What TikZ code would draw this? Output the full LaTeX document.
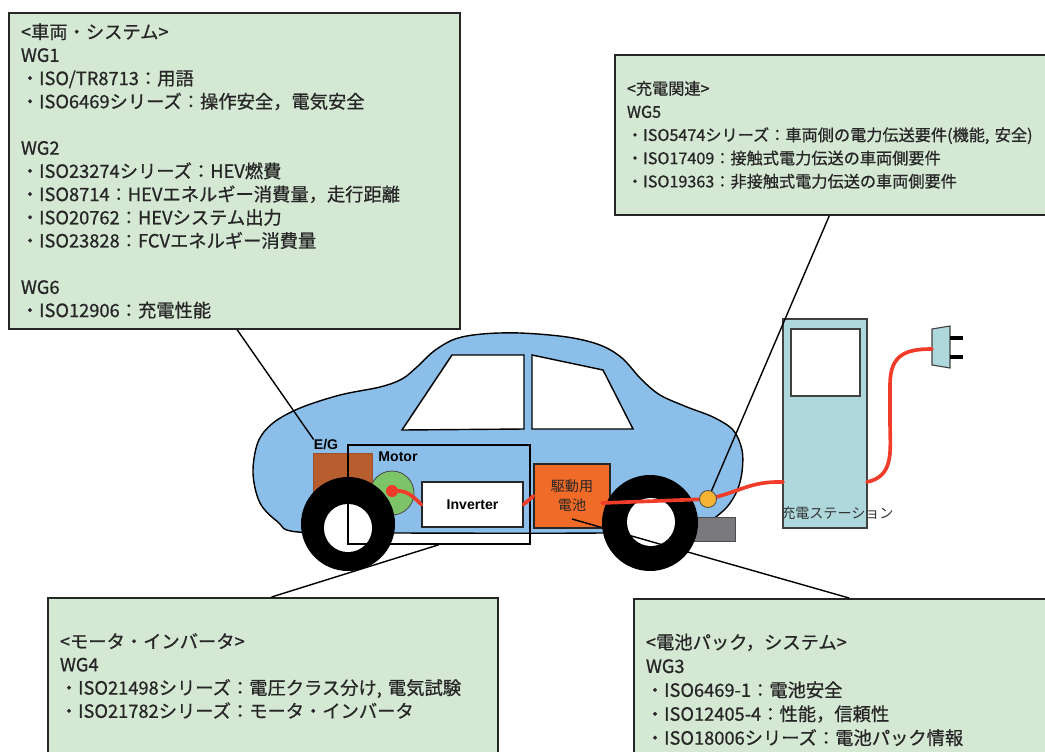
\documentclass[tikz,border=0pt]{standalone}
\usepackage{fontspec}
\setmainfont{Liberation Sans}
\newfontfamily\jp{Noto Sans CJK JP}
\newfontfamily\jpnote[FakeBold=0.7]{Noto Sans CJK JP}
\usetikzlibrary{calc}
\definecolor{notegreen}{RGB}{213,232,212}
\definecolor{carblue}{RGB}{139,190,232}
\definecolor{egbrown}{RGB}{184,94,46}
\definecolor{motorgreen}{RGB}{125,196,104}
\definecolor{cellorange}{RGB}{240,106,40}
\definecolor{cablered}{RGB}{240,60,40}
\definecolor{portgold}{RGB}{245,180,50}
\definecolor{stationteal}{RGB}{174,216,220}
\definecolor{bumpergray}{RGB}{122,122,126}
\newcommand{\unitpx}{0.025cm}
\tikzset{
  note/.style={draw=black!85,line width=1.3pt,fill=notegreen,anchor=north west,align=left,inner xsep=12*\unitpx,inner ysep=0pt,text=black!85,font=\jpnote\fontsize{13}{16.5}\selectfont},
  body/.style={draw=black,line width=1pt,fill=carblue},
  pane/.style={draw=black,line width=1pt,fill=white},
  part/.style={draw=black!85,line width=0.8pt,inner sep=0pt,align=center},
  tag/.style={inner sep=0pt,font=\bfseries\fontsize{10}{12}\selectfont},
  cable/.style={draw=cablered,line width=2.6pt,line cap=round},
  leader/.style={draw=black,line width=1pt}
}
\begin{document}
\begin{tikzpicture}[x=0.025cm,y=-0.025cm]
\path[use as bounding box,clip] (0,0) rectangle (1045,751);

% notes
\node[note,text width=427*\unitpx,minimum height=316*\unitpx] (vehicle) at (8,12) {%
<車両・システム>\\
WG1\\
・ISO/TR8713：用語\\
・ISO6469シリーズ：操作安全，電気安全\\[16.5pt]
WG2\\
・ISO23274シリーズ：HEV燃費\\
・ISO8714：HEVエネルギー消費量，走行距離\\
・ISO20762：HEVシステム出力\\
・ISO23828：FCVエネルギー消費量\\[16.5pt]
WG6\\
・ISO12906：充電性能};
\node[note,text width=416*\unitpx,minimum height=160*\unitpx,font=\jpnote\fontsize{11.5}{16.5}\selectfont] (charging) at (614,54) {%
<充電関連>\\
WG5\\
・ISO5474シリーズ：車両側の電力伝送要件(機能, 安全)\\
・ISO17409：接触式電力伝送の車両側要件\\
・ISO19363：非接触式電力伝送の車両側要件};
\node[note,text width=426*\unitpx,minimum height=156*\unitpx] (drivenote) at (47,597) {%
<モータ・インバータ>\\
WG4\\
・ISO21498シリーズ：電圧クラス分け, 電気試験\\
・ISO21782シリーズ：モータ・インバータ};
\node[note,text width=416*\unitpx,minimum height=182*\unitpx,font=\jpnote\fontsize{13}{17}\selectfont] (packnote) at (633,598) {%
<電池パック，システム>\\
WG3\\
・ISO6469-1：電池安全\\
・ISO12405-4：性能，信頼性\\
・ISO18006シリーズ：電池パック情報};

% car body and windows
\draw[body] plot[smooth cycle,tension=0.55] coordinates {
  (298,532) (278,522) (260,503) (253,473) (258,442) (273,423) (300,408)
  (340,395) (380,387) (402,379) (418,366) (434,351) (455,339) (482,334)
  (520,333) (567,337) (600,345) (622,358) (641,379) (660,395) (687,407)
  (713,417) (733,430) (742,450) (742,472) (737,491) (727,507) (712,520)
  (697,530) (600,533) (400,533)};
\draw[pane] (402,430) -- (452,355) -- (524,355) -- (524,429) -- cycle;
\draw[pane] (532,355) -- (603,370) -- (633,429) -- (532,429) -- cycle;

% drive train
\node[fill=egbrown,draw=egbrown!85!black,line width=0.5pt,minimum width=59*\unitpx,minimum height=52*\unitpx] (egblock) at (342.5,479) {};
\node[tag] (eg) at (326,445) {E/G};
\node[circle,fill=motorgreen,draw=black!70,line width=0.6pt,minimum size=44*\unitpx] (motor) at (392,493) {};
\node[tag] (motorname) at (398,457) {Motor};
\node[part,fill=white,minimum width=101*\unitpx,minimum height=45*\unitpx,font=\bfseries\fontsize{10}{12}\selectfont] (inverter) at (472.5,504.5) {Inverter};
\node[part,fill=cellorange,minimum width=76*\unitpx,minimum height=64*\unitpx,text=black!85,font=\jp\fontsize{10}{13.5}\selectfont] (battery) at (572,496) {駆動用\\電池};
\draw[draw=black!70,fill=bumpergray] (693,517) rectangle (735,541);

% wheels
\fill[black] (348,524) circle[radius=47];
\fill[white] (348,528) circle[radius=24];
\fill[black] (650,523) circle[radius=48];
\fill[white] (651,522) circle[radius=24];

\node[draw=black,line width=1pt,inner sep=0pt,minimum width=182*\unitpx,minimum height=99*\unitpx] (drive) at (439,494.5) {};

% charging station
\node[draw=black!75,fill=stationteal,line width=0.8pt,minimum width=84*\unitpx,minimum height=209*\unitpx] (station) at (825,423.5) {};
\node[draw=black!75,fill=white,line width=0.9pt,minimum width=69*\unitpx,minimum height=67*\unitpx] (screen) at (825.5,362.5) {};
\node[anchor=west,inner sep=0pt,text=black!80,font=\jp\fontsize{10}{12}\selectfont] (stationname) at (781,513) {充電ステーション};
\draw[draw=black!75,fill=stationteal,line width=0.8pt] (932,329) -- (950,326) -- (950,368) -- (932,365) -- cycle;
\draw[line width=3pt] (950,338) -- (963,338) (950,357) -- (963,357);

% cables
\coordinate (cellout) at (602,503);
\coordinate (dockin) at (783,482);
\coordinate (dockout) at (867,482);
\coordinate (plugin) at (932,349);
\node[circle,fill=cablered,inner sep=0pt,minimum size=12*\unitpx] (rotor) at (392,491) {};
\draw[cable] (rotor.center) .. controls (408,489) and (414,498) .. (inverter.west);
\draw[cable] (inverter.east) -- (battery.west);
\draw[cable] (cellout) -- (708,499) .. controls (740,492) and (750,481) .. (dockin);
\draw[cable] (dockout) .. controls (895,476) and (890,450) .. (890,420) -- (890,385)
  .. controls (890,355) and (905,349) .. (plugin);
\node[circle,fill=portgold,draw=black!70,line width=0.6pt,minimum size=17*\unitpx] (port) at (708,499) {};

% leaders
\coordinate (celltap) at (572,519);
\draw[leader] (vehicle.271) -- (eg.north west);
\draw[leader] (charging.266) -- (port);
\draw[leader] (drivenote.91) -- (drive.south);
\draw[leader] (packnote.93) -- (celltap);
\end{tikzpicture}
\end{document}
